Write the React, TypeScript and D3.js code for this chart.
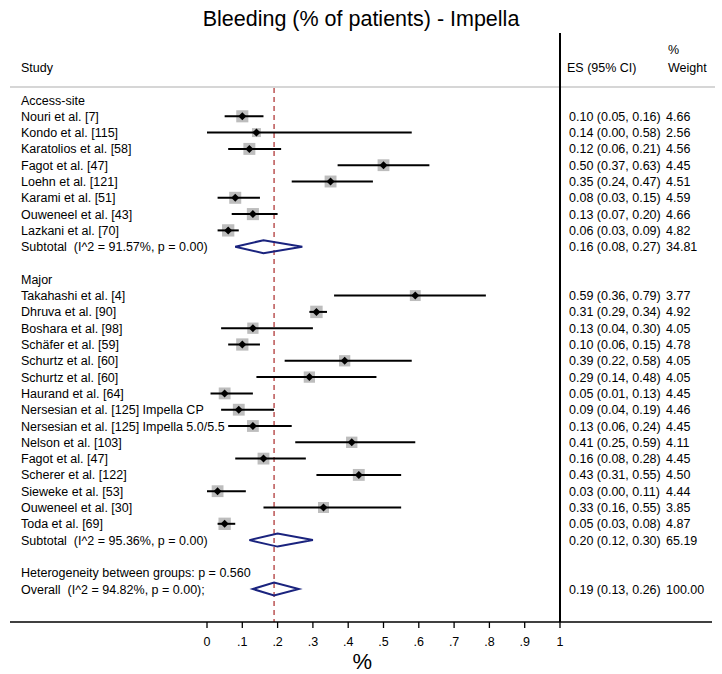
import React from "react";
import * as d3 from "d3";

const studies = [
  "Nouri et al. [7]", "Kondo et al. [115]", "Karatolios et al. [58]", "Fagot et al. [47]",
  "Loehn et al. [121]", "Karami et al. [51]", "Ouweneel et al. [43]", "Lazkani et al. [70]",
  "Takahashi et al. [4]", "Dhruva et al. [90]", "Boshara et al. [98]", "Schäfer et al. [59]",
  "Schurtz et al. [60]", "Schurtz et al. [60]", "Haurand et al. [64]",
  "Nersesian et al. [125] Impella CP", "Nersesian et al. [125] Impella 5.0/5.5",
  "Nelson et al. [103]", "Fagot et al. [47]", "Scherer et al. [122]", "Sieweke et al. [53]",
  "Ouweneel et al. [30]", "Toda et al. [69]",
];
const groups = ["Access-site", "Access-site", "Access-site", "Access-site", "Access-site", "Access-site", "Access-site", "Access-site",
  "Major", "Major", "Major", "Major", "Major", "Major", "Major", "Major", "Major", "Major", "Major", "Major", "Major", "Major", "Major"];
const es = [0.10, 0.14, 0.12, 0.50, 0.35, 0.08, 0.13, 0.06, 0.59, 0.31, 0.13, 0.10, 0.39, 0.29, 0.05, 0.09, 0.13, 0.41, 0.16, 0.43, 0.03, 0.33, 0.05];
const lo = [0.05, 0.00, 0.06, 0.37, 0.24, 0.03, 0.07, 0.03, 0.36, 0.29, 0.04, 0.06, 0.22, 0.14, 0.01, 0.04, 0.06, 0.25, 0.08, 0.31, 0.00, 0.16, 0.03];
const hi = [0.16, 0.58, 0.21, 0.63, 0.47, 0.15, 0.20, 0.09, 0.79, 0.34, 0.30, 0.15, 0.58, 0.48, 0.13, 0.19, 0.24, 0.59, 0.28, 0.55, 0.11, 0.55, 0.08];
const weights = ["4.66", "2.56", "4.56", "4.45", "4.51", "4.59", "4.66", "4.82", "3.77", "4.92", "4.05", "4.78", "4.05", "4.05", "4.45", "4.46", "4.45", "4.11", "4.45", "4.50", "4.44", "3.85", "4.87"];

const groupNames = ["Access-site", "Major"];
const subLabels = ["Subtotal  (I^2 = 91.57%, p = 0.00)", "Subtotal  (I^2 = 95.36%, p = 0.00)"];
const subEs = [0.16, 0.20];
const subLo = [0.08, 0.12];
const subHi = [0.27, 0.30];
const subW = ["34.81", "65.19"];
const hetLabel = "Heterogeneity between groups: p = 0.560";
const overallLabel = "Overall  (I^2 = 94.82%, p = 0.00);";
const overall = { es: 0.19, lo: 0.13, hi: 0.26, w: "100.00" };
const ticks = [0, 0.1, 0.2, 0.3, 0.4, 0.5, 0.6, 0.7, 0.8, 0.9, 1];
const tickLabels = ["0", ".1", ".2", ".3", ".4", ".5", ".6", ".7", ".8", ".9", "1"];

const fmt = (v: number) => v.toFixed(2);

type Row =
  | { kind: "head"; label: string }
  | { kind: "study"; label: string; es: number; lo: number; hi: number; w: string }
  | { kind: "sub"; label: string; es: number; lo: number; hi: number; w: string }
  | { kind: "blank" }
  | { kind: "text"; label: string };

export default function App() {
  const W = 722, H = 674;
  const x = d3.scaleLinear().domain([0, 1]).range([207, 560]);
  const rows: Row[] = [];
  groupNames.forEach((g, gi) => {
    rows.push({ kind: "head", label: g });
    studies.forEach((s, i) => {
      if (groups[i] === g) rows.push({ kind: "study", label: s, es: es[i], lo: lo[i], hi: hi[i], w: weights[i] });
    });
    rows.push({ kind: "sub", label: subLabels[gi], es: subEs[gi], lo: subLo[gi], hi: subHi[gi], w: subW[gi] });
    rows.push({ kind: "blank" });
  });
  rows.push({ kind: "text", label: hetLabel });
  rows.push({ kind: "sub", label: overallLabel, ...overall });
  const y = d3.scaleLinear().domain([0, rows.length - 1]).range([100, 589]);
  const font = "'Liberation Sans', Arial, sans-serif";
  const fs = 12.5;
  const axisY = 622;
  const pre = { whiteSpace: "pre" as const };

  return (
    <svg width={W} height={H} style={{ position: "absolute", left: 0, top: 0, background: "#fff" }} fontFamily={font}>
      <rect width={W} height={H} fill="#fff" />
      <text x={361} y={26} textAnchor="middle" fontSize={21.5}>Bleeding (% of patients) - Impella</text>
      <text x={21} y={72} fontSize={fs}>Study</text>
      <text x={567} y={72} fontSize={fs}>ES (95% CI)</text>
      <text x={668} y={54} fontSize={fs}>%</text>
      <text x={668} y={72} fontSize={fs}>Weight</text>
      <line x1={10} x2={715} y1={87} y2={87} stroke="#c8c8c8" strokeWidth={1.5} />
      <line x1={x(overall.es)} x2={x(overall.es)} y1={88} y2={axisY} stroke="#b03a3a" strokeWidth={1.3} strokeDasharray="5,4" />
      {rows.map((r, i) => {
        const yy = y(i);
        if (r.kind === "blank") return null;
        if (r.kind === "head" || r.kind === "text")
          return <text key={i} x={21} y={yy + 4.5} fontSize={fs} style={pre}>{r.label}</text>;
        const right = (
          <g>
            <text x={569} y={yy + 4.5} fontSize={fs}>{`${fmt(r.es)} (${fmt(r.lo)}, ${fmt(r.hi)})`}</text>
            <text x={666} y={yy + 4.5} fontSize={fs}>{r.w}</text>
          </g>
        );
        if (r.kind === "study") {
          const s = 5.6 * Math.sqrt(parseFloat(r.w));
          return (
            <g key={i}>
              <text x={21} y={yy + 4.5} fontSize={fs}>{r.label}</text>
              <rect x={x(r.es) - s / 2} y={yy - s / 2} width={s} height={s} fill="#bdbdbd" />
              <line x1={x(r.lo)} x2={x(r.hi)} y1={yy} y2={yy} stroke="#000" strokeWidth={2} />
              <path d={`M${x(r.es) - 4},${yy} L${x(r.es)},${yy - 4} L${x(r.es) + 4},${yy} L${x(r.es)},${yy + 4} Z`} fill="#000" />
              {right}
            </g>
          );
        }
        return (
          <g key={i}>
            <text x={21} y={yy + 4.5} fontSize={fs} style={pre}>{r.label}</text>
            <path d={`M${x(r.lo)},${yy} L${x(r.es)},${yy - 6.5} L${x(r.hi)},${yy} L${x(r.es)},${yy + 6.5} Z`} fill="none" stroke="#1a237e" strokeWidth={2} />
            {right}
          </g>
        );
      })}
      <line x1={560} x2={560} y1={33} y2={axisY} stroke="#000" strokeWidth={2} />
      <line x1={10} x2={712} y1={axisY} y2={axisY} stroke="#000" strokeWidth={1.3} />
      {ticks.map((t, i) => (
        <g key={i}>
          <line x1={x(t)} x2={x(t)} y1={axisY} y2={axisY + 6} stroke="#000" strokeWidth={1.3} />
          <text x={x(t)} y={axisY + 24} textAnchor="middle" fontSize={fs}>{tickLabels[i]}</text>
        </g>
      ))}
      <text x={x(0.44)} y={669} textAnchor="middle" fontSize={22}>%</text>
    </svg>
  );
}
